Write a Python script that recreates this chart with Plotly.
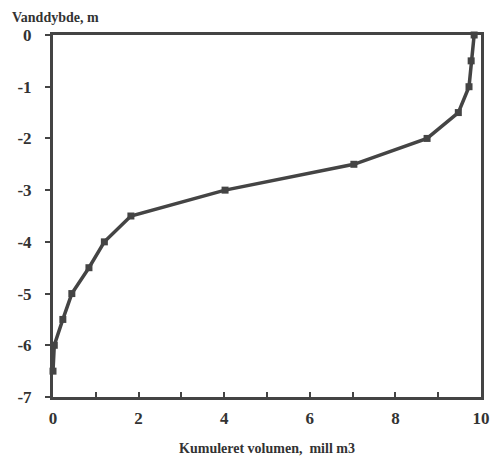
import plotly.graph_objects as go

volume = [9.84, 9.77, 9.72, 9.47, 8.74, 7.03, 4.02, 1.82, 1.20, 0.84, 0.44, 0.23, 0.03, 0.0]
depth = [0, -0.5, -1.0, -1.5, -2.0, -2.5, -3.0, -3.5, -4.0, -4.5, -5.0, -5.5, -6.0, -6.5]
x_ticks = [0, 2, 4, 6, 8, 10]
y_ticks = [0, -1, -2, -3, -4, -5, -6, -7]

C = "#444444"
FONT = "Liberation Serif"

fig = go.Figure()
fig.add_trace(go.Scatter(
    x=volume, y=depth, mode="lines+markers",
    line=dict(color=C, width=3.5),
    marker=dict(symbol="square", size=7, color=C),
    cliponaxis=False, showlegend=False,
))

fig.update_layout(
    width=502, height=466,
    margin=dict(l=53, r=14, t=35, b=66),
    plot_bgcolor="white", paper_bgcolor="white",
    font=dict(family=FONT, color="#333333", size=15),
    xaxis=dict(
        range=[0, 10], tickvals=x_ticks, ticktext=["<b>%d</b>" % v for v in x_ticks],
        showgrid=False, zeroline=False,
        showline=True, linecolor=C, linewidth=3, mirror=True,
        ticks="inside", ticklen=5, tickwidth=2, tickcolor=C,
        minor=dict(dtick=1, tick0=0, ticks="inside", ticklen=5, tickwidth=2, tickcolor=C),
        tickfont=dict(family=FONT, size=17, color="#333333"),
        ticklabelstandoff=4,
        title=dict(text="<b>Kumuleret volumen,  mill m3</b>", standoff=16,
                   font=dict(family=FONT, size=14, color="#333333")),
    ),
    yaxis=dict(
        range=[-7, 0], tickvals=y_ticks, ticktext=["<b>%d</b>" % v for v in y_ticks],
        showgrid=False, zeroline=False,
        showline=True, linecolor=C, linewidth=3, mirror=True,
        ticks="outside", ticklen=5, tickwidth=2, tickcolor=C,
        tickfont=dict(family=FONT, size=17, color="#333333"),
        ticklabelstandoff=10,
    ),
)

fig.add_annotation(
    text="<b>Vanddybde, m</b>", xref="paper", yref="paper",
    x=-0.1, y=1.0, xanchor="left", yanchor="bottom", yshift=8,
    showarrow=False, font=dict(family=FONT, size=14, color="#333333"),
)

fig.write_html("out.html")
